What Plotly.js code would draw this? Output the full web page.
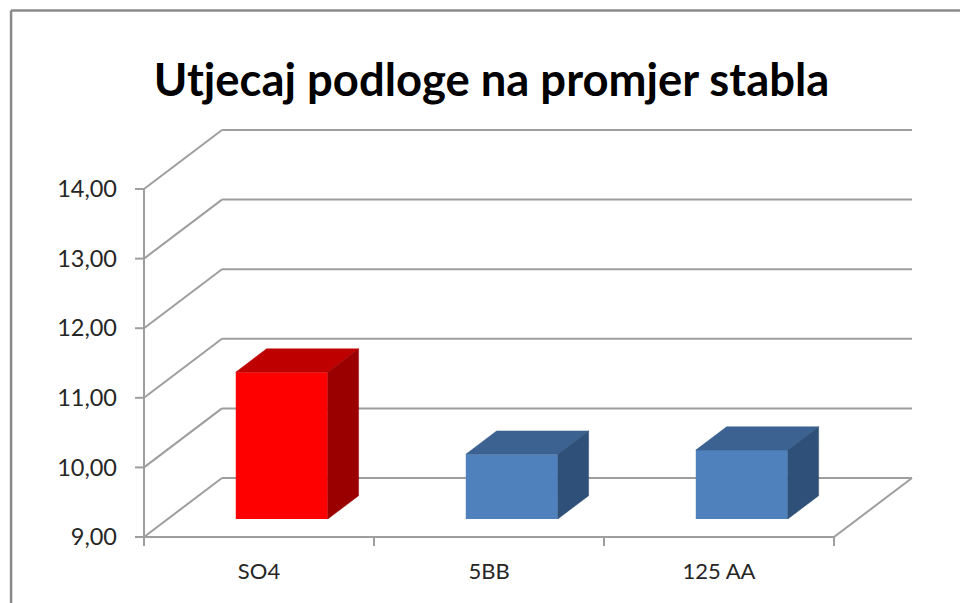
<!DOCTYPE html>
<html><head><meta charset="utf-8">
<script src="https://cdn.plot.ly/plotly-3.0.1.min.js"></script>
<style>html,body{margin:0;padding:0;background:#fff}#c{width:960px;height:603px}</style>
</head><body><div id="c"></div>
<script>
const titleText = 'Utjecaj podloge na promjer stabla';
const categories = ['SO4', '5BB', '125 AA'];
const values = [11.11, 9.93, 9.99];
const yTicks = [9, 10, 11, 12, 13, 14];
const frontColors = ['#ff0000', '#4f81bd', '#4f81bd'];
const topColors = ['#bf0000', '#3c6291', '#3c6291'];
const sideColors = ['#9b0000', '#2f5078', '#2f5078'];

// pseudo-3D projection, in axis units; the plot area has a clear pad so ticks and edge lines sit inside it
const W = 960, H = 603, pad = 4, padTick = 12;
const L = 143.5 - padTick, R = 912 + pad, T = 130 - pad, B = 537 + padTick;
const unitX = 230, unitY = 69.6;
const depthX = 0.339, depthY = 0.848;
const barWidth = 0.40, barFront = 0.305, barBack = 0.70, barNudge = -1 / unitX;
const baseVal = 9, topVal = 14;
const tickLen = 9;
const gridColor = '#9e9e9e', textColor = '#262626', frameColor = '#8a8a8a';
const xs = categories.map((_, i) => i);
const xMin = -0.5, xMax = categories.length - 0.5;

const shapes = [];
const line = (x0, y0, x1, y1) => shapes.push({type:'line', layer:'below', xref:'x', yref:'y', x0, y0, x1, y1,
  line:{color:gridColor, width:2}});
yTicks.forEach(v => {
  line(xMin, v, xMin + depthX, v + depthY);
  line(xMin + depthX, v + depthY, xMax + depthX, v + depthY);
});
line(xMin, baseVal, xMin, topVal);
line(xMin, baseVal, xMax, baseVal);
line(xMax, baseVal, xMax + depthX, baseVal + depthY);
for (let i = 0; i <= categories.length; i++) {
  line(xMin + i, baseVal, xMin + i, baseVal - tickLen / unitY);
}
// outer frame: left and top edges only
const py = p => (B - p) / (B - T), px = p => (p - L) / (R - L);
[[10.5, H, 10.5, 10.5], [10.5, 10.5, W, 10.5]].forEach(s => shapes.push({type:'line', layer:'below', xref:'paper', yref:'paper',
  x0:px(s[0]), y0:py(s[1]), x1:px(s[2]), y1:py(s[3]), line:{color:frameColor, width:2.5}}));

const traces = [];
// front faces
traces.push({type:'bar', x:xs.map(x => x + barFront * depthX + barNudge), y:values.map(v => v - baseVal),
  base:values.map(() => baseVal + barFront * depthY), width:barWidth,
  marker:{color:frontColors, line:{width:0}}, showlegend:false, hoverinfo:'skip'});
// top and side faces
values.forEach((v, i) => {
  const xl = xs[i] + barFront * depthX + barNudge - barWidth / 2, xr = xl + barWidth;
  const f = barFront, b = barBack;
  const yb = baseVal, dx = depthX, dy = depthY;
  traces.push({type:'scatter', mode:'lines', fill:'toself', fillcolor:topColors[i], line:{color:topColors[i], width:0.5},
    x:[xl, xr, xr + (b - f) * dx, xl + (b - f) * dx, xl],
    y:[v + f * dy, v + f * dy, v + b * dy, v + b * dy, v + f * dy],
    showlegend:false, hoverinfo:'skip'});
  traces.push({type:'scatter', mode:'lines', fill:'toself', fillcolor:sideColors[i], line:{color:sideColors[i], width:0.5},
    x:[xr, xr + (b - f) * dx, xr + (b - f) * dx, xr, xr],
    y:[v + f * dy, v + b * dy, yb + b * dy, yb + f * dy, v + f * dy],
    showlegend:false, hoverinfo:'skip'});
});
// value ticks left of the wall edge
traces.push({type:'scatter', mode:'lines', line:{color:gridColor, width:2}, connectgaps:false,
  x:yTicks.flatMap(() => [xMin - tickLen / unitX, xMin, null]),
  y:yTicks.flatMap(v => [v, v, null]),
  showlegend:false, hoverinfo:'skip'});

const layout = {
  width:W, height:H, autosize:false, paper_bgcolor:'#fff', plot_bgcolor:'rgba(0,0,0,0)',
  margin:{l:L, r:W - R, t:T, b:H - B, pad:0}, separators:',.', showlegend:false,
  font:{family:'Lato, "Open Sans", sans-serif', color:textColor, size:20},
  title:{text:titleText, font:{family:'Lato, "Open Sans", sans-serif', size:45.4, color:'#000', weight:700},
    xref:'container', yref:'container', x:491.5/W, y:1 - 80/H, xanchor:'center', yanchor:'middle'},
  xaxis:{range:[xMin - padTick / unitX, xMax + depthX + pad / unitX], tickvals:xs, ticktext:categories, ticklen:0, showgrid:false, zeroline:false,
    showline:false, ticklabelstandoff:7, tickfont:{size:22, color:textColor}, fixedrange:true},
  yaxis:{range:[baseVal - padTick / unitY, topVal + depthY + pad / unitY], tickvals:yTicks, tickformat:'.2f', ticks:'', showgrid:false,
    zeroline:false, showline:false, ticklabelstandoff:14, tickfont:{size:23.5, color:textColor}, fixedrange:true},
  shapes
};
Plotly.newPlot('c', traces, layout, {displayModeBar:false, staticPlot:true});
</script></body></html>
